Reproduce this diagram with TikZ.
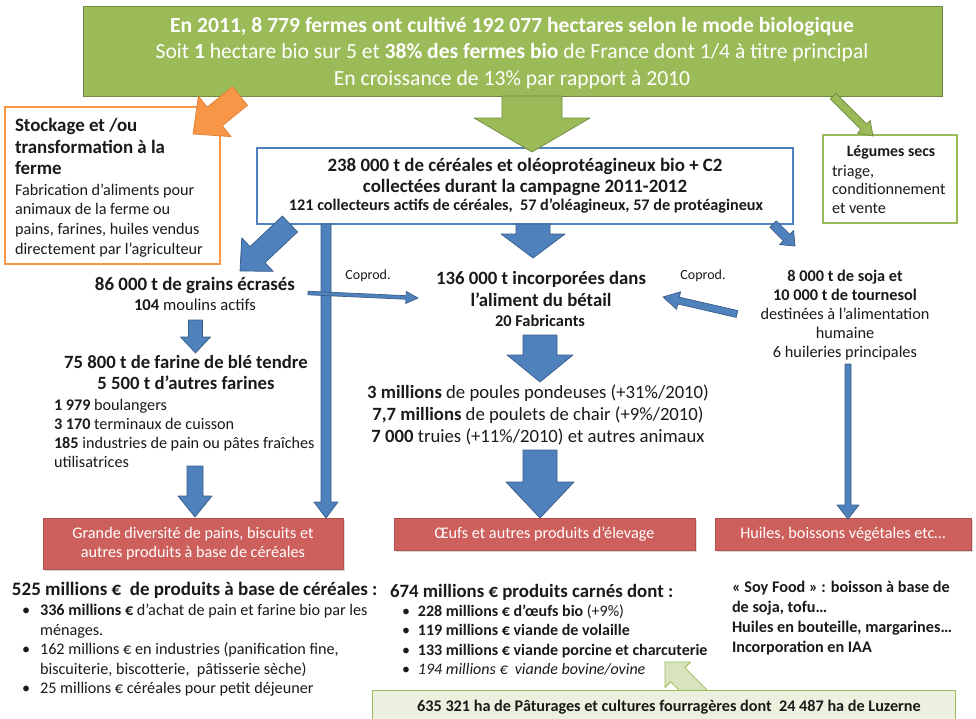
\documentclass[tikz,border=0pt]{standalone}
\usepackage{fontspec}
\setmainfont{Carlito}
\usetikzlibrary{calc,shadows}
\definecolor{gr}{HTML}{9BBB59}
\definecolor{grd}{HTML}{71893F}
\definecolor{org}{HTML}{F79646}
\definecolor{orgd}{HTML}{E07E30}
\definecolor{blu}{HTML}{4F81BD}
\definecolor{blud}{HTML}{385D8A}
\definecolor{rd}{HTML}{CD5F5C}
\definecolor{rdd}{HTML}{B0504D}
\definecolor{lgr}{HTML}{EBF1DE}
\definecolor{lgra}{HTML}{D7E4BD}
\definecolor{txt}{HTML}{1A1A1A}
\newcommand{\fs}[2]{\fontsize{#1}{#2}\selectfont}
\newcommand{\blockarr}[6][]{%
  \coordinate (ba-h) at ($(#3)!#6!(#2)$);
  \path[#1] ($(#2)!#4!90:(#3)$) -- ($(ba-h)!#4!90:(#3)$) -- ($(ba-h)!#5!90:(#3)$) -- (#3) -- ($(ba-h)!#5!-90:(#3)$) -- ($(ba-h)!#4!-90:(#3)$) -- ($(#2)!#4!-90:(#3)$) -- cycle;}
\begin{document}
\begin{tikzpicture}[x=1pt,y=-1pt,
  every node/.style={inner sep=0pt,outer sep=0pt},
  tx/.style={text=txt},
  barr/.style={fill=blu,draw=blud,line width=0.7pt,line join=round},
  garr/.style={fill=gr,draw=grd,line width=0.7pt,line join=round},
  oarr/.style={fill=org,draw=orgd,line width=0.7pt,line join=round},
  larr/.style={fill=lgra,draw=gr,line width=0.8pt,line join=round},
  redbox/.style={fill=rd,draw=rdd,line width=0.6pt,drop shadow={opacity=0.3,shadow xshift=1.5pt,shadow yshift=-2pt},text=white,align=center,font=\fs{16.2}{19.5}},
  bullist/.style={tx,anchor=west}]
\useasboundingbox (0,0) rectangle (976,718);
\clip (0,0) rectangle (976,718);
\fill[white] (0,0) rectangle (976,718);

% boxes
\node[fill=gr,draw=grd,line width=1pt,minimum width=859pt,minimum height=90pt,anchor=north west] (top) at (83,6) {};
\node[text=white,align=center,font=\fs{21.6}{26.5}] (toptxt) at (512,53) {\textbf{En 2011, 8 779 fermes ont cultivé 192 077 hectares selon le mode biologique}\\Soit \textbf{1} hectare bio sur 5 et \textbf{38\% des fermes bio} de France dont 1/4 à titre principal\\En croissance de 13\% par rapport à 2010};

\node[draw=org,fill=white,line width=2pt,minimum width=215pt,minimum height=157pt,anchor=north west] (stock) at (5,107) {};
\node[tx,align=left,anchor=west,font=\bfseries\fs{18.9}{21.5}] (stockT) at (15,146.5) {Stockage et /ou\\transformation à la\\ferme};
\node[tx,align=left,anchor=west,font=\fs{16.2}{19.7}] (stockB) at (15,220.5) {Fabrication d’aliments pour\\animaux de la ferme ou\\pains, farines, huiles vendus\\directement par l’agriculteur};

\node[draw=gr,fill=white,line width=1.2pt,minimum width=134pt,minimum height=88pt,anchor=north west] (leg) at (823,135) {};
\node[tx,font=\bfseries\fs{15.8}{18}] (legT) at (891,152) {Légumes secs};
\node[tx,align=left,anchor=west,font=\fs{16.2}{18.5}] (legB) at (832,189) {triage,\\conditionnement\\et vente};

\node[draw=blu,fill=white,line width=1.5pt,minimum width=536pt,minimum height=76pt,anchor=north west] (coll) at (257,148) {};
\node[tx,align=center,font=\bfseries\fs{18.9}{20.5}] (collT) at (525,177) {238 000 t de céréales et oléoprotéagineux bio + C2\\collectées durant la campagne 2011-2012};
\node[tx,font=\bfseries\fs{16.2}{18}] (collB) at (526,206) {121 collecteurs actifs de céréales,~ 57 d’oléagineux, 57 de protéagineux};

% middle texts
\node[tx,font=\bfseries\fs{18.9}{21}] (grains) at (195,285) {86 000 t de grains écrasés};
\node[tx,font=\fs{16.6}{18}] (moulins) at (195,305) {\textbf{104} moulins actifs};
\node[tx,align=center,font=\bfseries\fs{18.7}{21}] (farine) at (186,372.5) {75 800 t de farine de blé tendre\\5 500 t d’autres farines};
\node[tx,align=left,anchor=west,font=\fs{16.2}{19}] (boul) at (54,433.5) {\textbf{1 979} boulangers\\\textbf{3 170} terminaux de cuisson\\\textbf{185} industries de pain ou pâtes fraîches\\utilisatrices};

\node[tx,font=\fs{14}{15}] (cop1) at (368,276) {Coprod.};
\node[tx,font=\fs{14}{15}] (cop2) at (703,276) {Coprod.};

\node[tx,align=center,font=\bfseries\fs{18.8}{22}] (alim) at (541,289) {136 000 t incorporées dans\\l’aliment du bétail};
\node[tx,font=\bfseries\fs{16.4}{18}] (fabr) at (540,321) {20 Fabricants};
\node[tx,align=center,font=\fs{18.7}{22}] (anim) at (538,415) {\textbf{3 millions} de poules pondeuses (+31\%/2010)\\\textbf{7,7 millions} de poulets de chair (+9\%/2010)\\\textbf{7 000} truies (+11\%/2010) et autres animaux};

\node[tx,align=center,font=\fs{16.3}{19}] (soja) at (845,315) {\textbf{8 000 t de soja et}\\\textbf{10 000 t de tournesol}\\destinées à l’alimentation\\humaine\\6 huileries principales};

% red boxes
\node[redbox,minimum width=300pt,minimum height=51pt,anchor=north west] (r1) at (43,518) {Grande diversité de pains, biscuits et\\autres produits à base de céréales};
\node[redbox,minimum width=301pt,minimum height=32pt,anchor=north west] (r2) at (394,518) {Œufs et autres produits d’élevage};
\node[redbox,minimum width=256pt,minimum height=32pt,anchor=north west] (r3) at (715,518) {Huiles, boissons végétales etc…};

% bottom texts
\node[tx,anchor=west,font=\bfseries\fs{19}{21}] (eur1) at (12,590) {525 millions €~ de produits à base de céréales :};
\node[bullist,font=\fs{16.2}{19.5}] (eur1b) at (22,651) {\begin{tabular}{@{}l@{\hspace{10pt}}l@{}}
•&\textbf{336 millions €} d’achat de pain et farine bio par les\\
&ménages.\\
•&162 millions € en industries (panification fine,\\
&biscuiterie, biscotterie,~ pâtisserie sèche)\\
•&25 millions € céréales pour petit déjeuner
\end{tabular}};

\node[tx,anchor=west,font=\bfseries\fs{18.8}{21}] (eur2) at (390,592) {674 millions € produits carnés dont :};
\node[bullist,font=\fs{16}{19.6}] (eur2b) at (402,641.5) {\begin{tabular}{@{}l@{\hspace{8pt}}l@{}}
•&\textbf{228 millions € d’œufs bio} (+9\%)\\
•&\textbf{119 millions € viande de volaille}\\
•&\textbf{133 millions € viande porcine et charcuterie}\\
•&\textit{194 millions €~ viande bovine/ovine}
\end{tabular}};

\node[tx,anchor=west,align=left,font=\bfseries\fs{16.2}{20}] (soyf) at (732,618) {« Soy Food » : boisson à base de\\de soja, tofu…\\Huiles en bouteille, margarines…\\Incorporation en IAA};

% arrow end points
\coordinate (gA) at (532,96);  \coordinate (gB) at (532,152);
\coordinate (oA) at (240,96);  \coordinate (oB) at (193,134);
\coordinate (sA) at (833,96);  \coordinate (sB) at (873,136);
\coordinate (b1A) at (290,224); \coordinate (b1B) at (240,271);
\coordinate (b2A) at (326,224); \coordinate (b2B) at (326,518);
\coordinate (b3A) at (533,224); \coordinate (b3B) at (533,258);
\coordinate (b4A) at (773,224); \coordinate (b4B) at (795,246);
\coordinate (c1A) at (308,293); \coordinate (c1B) at (418,298);
\coordinate (c2A) at (737,314); \coordinate (c2B) at (663,297);
\coordinate (b5A) at (195.5,320); \coordinate (b5B) at (195.5,353);
\coordinate (b6A) at (195,466); \coordinate (b6B) at (195,517);
\coordinate (b7A) at (540,335); \coordinate (b7B) at (540,382);
\coordinate (b8A) at (540,450); \coordinate (b8B) at (540,518);
\coordinate (b9A) at (848,364); \coordinate (b9B) at (848,519);
\coordinate (lA) at (700,697); \coordinate (lB) at (665,662);

\blockarr[larr]{lA}{lB}{10pt}{18pt}{18pt}
\node[fill=lgr,draw=gr,line width=0.8pt,minimum width=583pt,minimum height=34pt,anchor=north west] (past) at (372,690) {};
\node[tx,font=\bfseries\fs{16.2}{18}] (pastT) at (669,707) {635 321 ha de Pâturages et cultures fourragères dont~ 24 487 ha de Luzerne};

\blockarr[garr]{gA}{gB}{30pt}{58pt}{34pt}
\blockarr[oarr]{oA}{oB}{12pt}{26pt}{28pt}
\blockarr[garr]{sA}{sB}{4pt}{9pt}{13pt}
\blockarr[barr]{b1A}{b1B}{11pt}{23pt}{24pt}
\blockarr[barr]{b2A}{b2B}{5pt}{12pt}{16pt}
\blockarr[barr]{b3A}{b3B}{17pt}{32pt}{24pt}
\blockarr[barr]{b4A}{b4B}{4.5pt}{10pt}{12pt}
\blockarr[barr]{c1A}{c1B}{1.8pt}{6pt}{12pt}
\blockarr[barr]{c2A}{c2B}{3.5pt}{9pt}{16pt}
\blockarr[barr]{b5A}{b5B}{7pt}{15pt}{16pt}
\blockarr[barr]{b6A}{b6B}{8pt}{17pt}{21pt}
\blockarr[barr]{b7A}{b7B}{17pt}{33pt}{27pt}
\blockarr[barr]{b8A}{b8B}{17pt}{34pt}{36pt}
\blockarr[barr]{b9A}{b9B}{3pt}{11pt}{14pt}
\end{tikzpicture}
\end{document}
